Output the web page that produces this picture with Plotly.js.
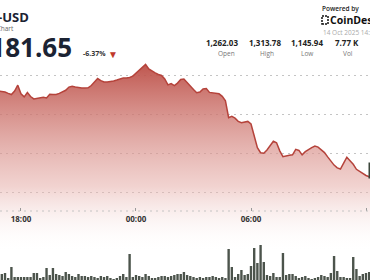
<!DOCTYPE html>
<html>
<head>
<meta charset="utf-8">
<script src="https://cdn.plot.ly/plotly-3.0.1.min.js"></script>
<style>html,body{margin:0;padding:0;background:#fff;}#chart{width:370px;height:280px;}</style>
</head>
<body>
<div id="chart"></div>
<script>
// ---- data ----
const startTime = '2025-10-13T16:50:00';
const stepMinutes = 10;
const price = [1279.5,1279.0,1278.2,1276.5,1275.0,1279.5,1287.0,1276.0,1272.0,1277.6,
1272.4,1269.4,1269.9,1270.5,1271.5,1270.6,1275.4,1274.9,1275.0,1276.5,
1278.2,1280.4,1284.5,1285.4,1284.5,1283.7,1283.3,1283.3,1283.5,1286.5,
1291.7,1295.5,1292.8,1291.0,1291.0,1291.2,1292.3,1293.5,1295.1,1296.2,
1296.2,1296.9,1298.6,1302.6,1306.4,1310.0,1313.5,1307.9,1305.0,1302.6,
1300.6,1299.4,1294.9,1287.4,1289.1,1286.4,1289.6,1294.2,1294.9,1290.1,
1285.5,1281.4,1277.3,1278.1,1282.2,1282.7,1277.7,1276.9,1276.9,1275.9,
1272.6,1266.8,1245.3,1246.9,1244.7,1240.6,1238.8,1239.6,1240.5,1237.2,
1222.1,1206.9,1200.3,1199.7,1203.8,1210.0,1215.1,1213.1,1202.8,1195.3,
1196.7,1197.1,1197.7,1204.7,1203.3,1197.6,1201.7,1204.9,1206.9,1209.0,
1207.6,1204.0,1200.5,1195.0,1189.2,1184.5,1180.9,1179.4,1186.9,1194.6,
1190.1,1185.5,1179.1,1176.4,1173.5,1171.2,1169.6,1168.6];
const volume = [78,78,91,26,169,39,39,39,39,39,
39,91,91,26,39,156,65,156,78,65,
52,104,78,52,39,78,52,52,39,52,
39,26,52,39,52,26,13,26,52,78,
39,338,39,65,52,39,78,52,26,26,
39,52,52,39,52,65,78,78,104,65,
52,39,26,39,26,39,39,52,39,26,
39,26,403,169,39,78,130,65,78,182,
416,221,455,234,65,52,91,39,39,351,
65,78,78,52,26,39,52,26,13,26,
39,65,52,39,91,312,117,39,39,26,
26,299,143,52,78,91,104];
const tickTimes = ['2025-10-13 18:00','2025-10-14 00:00','2025-10-14 06:00','2025-10-14 12:00'];
const tickLabels = ['18:00','00:00','06:00','12:00'];
const gridPrices = [1150,1200,1250,1300];
const statValues = ['1,262.03','1,313.78','1,145.94','7.77 K'];
const statLabels = ['Open','High','Low','Vol'];
const pair = 'BNB-USD';
const lastPrice = '1,181.65';
const changePct = '-6.37%';
const stamp = '14 Oct 2025 14:15';

// ---- build time categories ----
function pad(n){return (n<10?'0':'')+n;}
function fmt(d){return d.getFullYear()+'-'+pad(d.getMonth()+1)+'-'+pad(d.getDate())+' '+pad(d.getHours())+':'+pad(d.getMinutes());}
const t0 = new Date(startTime);
const times = price.map((_,i)=>fmt(new Date(t0.getTime()+i*stepMinutes*60000)));
const vtimes = times.slice(0, volume.length);

const W=370,H=280;
const px = x => x/W, py = y => 1 - y/H;
const FONT = 'Open Sans';

const traces = [
  {type:'bar', x:vtimes, y:volume, yaxis:'y2', marker:{color:'#4c544c', line:{width:0}}, hoverinfo:'skip'},
  {type:'scatter', mode:'lines', x:times, y:price, line:{color:'#b5433b', width:1.5},
   fill:'tozeroy',
   fillgradient:{type:'vertical', start:1072, stop:1314,
     colorscale:[[0,'rgba(255,255,255,0)'],[0.35,'rgba(230,175,170,0.55)'],[1,'rgba(188,78,70,0.95)']]},
   hoverinfo:'skip'}
];

function A(text,x,y,o){
  return Object.assign({text:text, xref:'paper', yref:'paper', x:px(x), y:py(y), showarrow:false,
    xanchor:'left', yanchor:'middle', font:{family:FONT, size:8, color:'#222'}}, o||{});
}
const centers = [222,265,307,347];
const annotations = [
  A(pair,31,17,{xanchor:'right', font:{family:FONT,size:13,color:'#1b2333',weight:700}}),
  A('BNB Price Chart',16,29,{xanchor:'right', font:{family:FONT,size:6.5,color:'#666'}}),
  A(lastPrice,74,47,{xanchor:'right', font:{family:FONT,size:26,color:'#1b2333',weight:700}}),
  A(changePct,81,54,{font:{family:FONT,size:7,color:'#333',weight:700}}),
  A('▼',106,54,{font:{family:FONT,size:10,color:'#c0392b'}}),
  A('Powered by',320,8,{font:{family:FONT,size:6.5,color:'#222',weight:600}}),
  A('CoinDesk',328,20,{font:{family:FONT,size:10.5,color:'#111',weight:700}}),
  A(stamp,321,32,{font:{family:FONT,size:6.5,color:'#aaa'}}),
  A(lastPrice,368,170,{bgcolor:'#3b463b', borderpad:2, font:{family:FONT,size:8,color:'#fff',weight:700}})
];
statValues.forEach((v,i)=>annotations.push(A(v,centers[i],42,{xanchor:'center', font:{family:FONT,size:8,color:'#222',weight:700}})));
const lcent=[227,267,307,348];
statLabels.forEach((v,i)=>annotations.push(A(v,lcent[i],54,{xanchor:'center', font:{family:FONT,size:6.5,color:'#777'}})));

const layout = {
  width:W, height:H, margin:{l:0,r:0,t:0,b:0}, showlegend:false,
  paper_bgcolor:'#fff', plot_bgcolor:'#fff', bargap:0.25,
  xaxis:{type:'date', range:['2025-10-13 16:54:18','2025-10-14 12:12:30'],
    anchor:'free', position:py(211), showgrid:false, zeroline:false, showline:false,
    tickmode:'array', tickvals:tickTimes, ticktext:tickLabels,
    ticks:'inside', ticklen:3, tickcolor:'#999', ticklabelstandoff:2,
    tickfont:{family:FONT, size:8, color:'#333', weight:700}, fixedrange:true},
  yaxis:{range:[1037.18,1396.15], tickmode:'array', tickvals:gridPrices, showticklabels:false,
    showgrid:true, gridcolor:'#c4c4c4', griddash:'2px,4px', gridwidth:1, zeroline:false, showline:false, ticks:''},
  yaxis2:{overlaying:'y', range:[0,3640], visible:false, showgrid:false},
  shapes:[
    {type:'line', xref:'paper', yref:'paper', x0:0, x1:1, y0:py(211), y1:py(211), line:{color:'#c4c4c4', width:1, dash:'2px,4px'}},
    {type:'rect', xref:'paper', yref:'paper', x0:px(322), x1:px(328), y0:py(24), y1:py(16), line:{color:'#111', width:1.5, dash:'2px,1px'}}
  ],
  annotations:annotations
};
Plotly.newPlot('chart', traces, layout, {staticPlot:true, displayModeBar:false});
</script>
</body>
</html>
